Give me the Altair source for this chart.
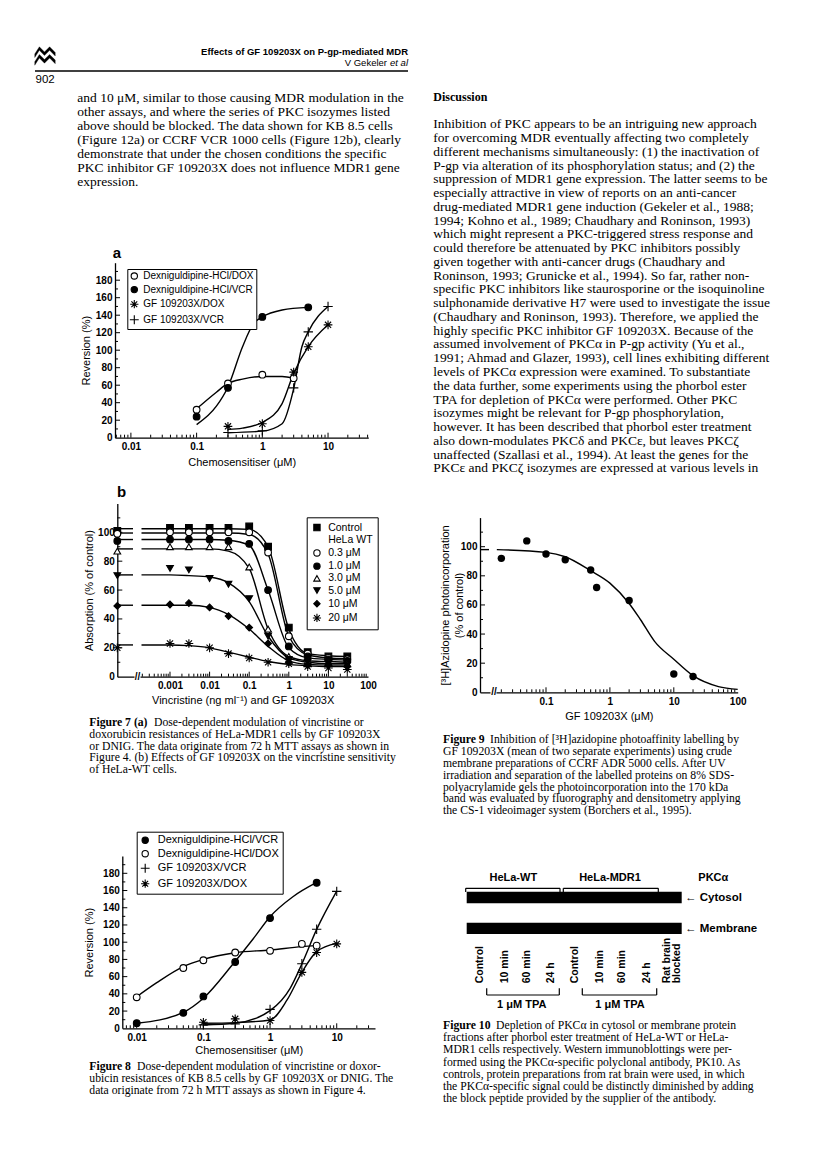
import altair as alt
import numpy as np
import pandas as pd

W, H = 800, 1146
MARGIN = 8
SANS = "Liberation Sans"
SERIF = "Liberation Serif"


def cx(v):
    return v - MARGIN


def cy(v):
    return v - MARGIN


# ================= page text =================
running_title = "Effects of GF 109203X on P-gp-mediated MDR"
running_author = "V Gekeler"
running_etal = "et al"
page_number = "902"

left_text = [
    "and 10 \u03bcM, similar to those causing MDR modulation in the",
    "other assays, and where the series of PKC isozymes listed",
    "above should be blocked. The data shown for KB 8.5 cells",
    "(Figure 12a) or CCRF VCR 1000 cells (Figure 12b), clearly",
    "demonstrate that under the chosen conditions the specific",
    "PKC inhibitor GF 109203X does not influence MDR1 gene",
    "expression.",
]

discussion_head = "Discussion"
right_text = [
    "Inhibition of PKC appears to be an intriguing new approach",
    "for overcoming MDR eventually affecting two completely",
    "different mechanisms simultaneously: (1) the inactivation of",
    "P-gp via alteration of its phosphorylation status; and (2) the",
    "suppression of MDR1 gene expression. The latter seems to be",
    "especially attractive in view of reports on an anti-cancer",
    "drug-mediated MDR1 gene induction (Gekeler et al., 1988;",
    "1994; Kohno et al., 1989; Chaudhary and Roninson, 1993)",
    "which might represent a PKC-triggered stress response and",
    "could therefore be attenuated by PKC inhibitors possibly",
    "given together with anti-cancer drugs (Chaudhary and",
    "Roninson, 1993; Grunicke et al., 1994). So far, rather non-",
    "specific PKC inhibitors like staurosporine or the isoquinoline",
    "sulphonamide derivative H7 were used to investigate the issue",
    "(Chaudhary and Roninson, 1993). Therefore, we applied the",
    "highly specific PKC inhibitor GF 109203X. Because of the",
    "assumed involvement of PKC\u03b1 in P-gp activity (Yu et al.,",
    "1991; Ahmad and Glazer, 1993), cell lines exhibiting different",
    "levels of PKC\u03b1 expression were examined. To substantiate",
    "the data further, some experiments using the phorbol ester",
    "TPA for depletion of PKC\u03b1 were performed. Other PKC",
    "isozymes might be relevant for P-gp phosphorylation,",
    "however. It has been described that phorbol ester treatment",
    "also down-modulates PKC\u03b4 and PKC\u03b5, but leaves PKC\u03b6",
    "unaffected (Szallasi et al., 1994). At least the genes for the",
    "PKC\u03b5 and PKC\u03b6 isozymes are expressed at various levels in",
]

cap7_head = "Figure 7  (a)"
cap7 = [
    "Dose-dependent modulation of vincristine or",
    "doxorubicin resistances of HeLa-MDR1 cells by GF 109203X",
    "or DNIG. The data originate from 72 h MTT assays as shown in",
    "Figure 4. (b) Effects of GF 109203X on the vincristine sensitivity",
    "of HeLa-WT cells.",
]
cap8_head = "Figure 8"
cap8 = [
    "Dose-dependent modulation of vincristine or doxor-",
    "ubicin resistances of KB 8.5 cells by GF 109203X or DNIG. The",
    "data originate from 72 h MTT assays as shown in Figure 4.",
]
cap9_head = "Figure 9"
cap9 = [
    "Inhibition of [\u00b3H]azidopine photoaffinity labelling by",
    "GF 109203X (mean of two separate experiments) using crude",
    "membrane preparations of CCRF ADR 5000 cells. After UV",
    "irradiation and separation of the labelled proteins on 8% SDS-",
    "polyacrylamide gels the photoincorporation into the 170 kDa",
    "band was evaluated by fluorography and densitometry applying",
    "the CS-1 videoimager system (Borchers et al., 1995).",
]
cap10_head = "Figure 10"
cap10 = [
    "Depletion of PKC\u03b1 in cytosol or membrane protein",
    "fractions after phorbol ester treatment of HeLa-WT or HeLa-",
    "MDR1 cells respectively. Western immunoblottings were per-",
    "formed using the PKC\u03b1-specific polyclonal antibody, PK10. As",
    "controls, protein preparations from rat brain were used, in which",
    "the PKC\u03b1-specific signal could be distinctly diminished by adding",
    "the block peptide provided by the supplier of the antibody.",
]

# ================= Figure 7a data =================
f7a_series = ["Dexniguldipine-HCl/DOX", "Dexniguldipine-HCl/VCR", "GF 109203X/DOX", "GF 109203X/VCR"]
f7a_dexdox_x = [0.1, 0.3, 1, 3]
f7a_dexdox_y = [32, 62, 72, 68]
f7a_dexvcr_x = [0.1, 0.3, 1, 5]
f7a_dexvcr_y = [24, 57, 138, 149]
f7a_gfdox_x = [0.3, 1, 3, 5, 10]
f7a_gfdox_y = [13, 16, 75, 104, 129]
f7a_gfvcr_x = [0.3, 1, 3, 5, 10]
f7a_gfvcr_y = [6, 8, 57, 121, 150]
# fitted curves
f7a_fit_dexdox_x = [0.1, 0.2, 0.3, 0.5, 1, 2, 3]
f7a_fit_dexdox_y = [33, 52, 62, 67, 70, 70, 68]
f7a_fit_dexvcr_x = [0.1, 0.2, 0.3, 0.5, 0.73, 1, 2, 5]
f7a_fit_dexvcr_y = [15, 36, 58, 104, 130, 138, 146, 149]
f7a_fit_gfdox_x = [0.3, 0.5, 1, 2, 3, 5, 10]
f7a_fit_gfdox_y = [9.5, 11, 17.5, 39, 73.5, 104, 129]
f7a_fit_gfvcr_x = [0.3, 1, 2, 3, 4, 5, 10]
f7a_fit_gfvcr_y = [5.7, 7.5, 16, 56, 104, 121, 150]

# ================= Figure 7b data =================
f7b_series = ["Control", "HeLa WT", "0.3 \u03bcM", "1.0 \u03bcM", "3.0 \u03bcM", "5.0 \u03bcM", "10 \u03bcM", "20 \u03bcM"]
f7b_vcr = [0, 0.001, 0.003, 0.01, 0.03, 0.1, 0.3, 1, 3, 10, 30]
f7b_control = [101, 103, 103, 103, 103, 104, 90, 34, 17, 14, 14]
f7b_gf03 = [99, 100, 100, 100, 100, 100, 86, 28, 16, 13, 12]
f7b_gf1 = [94, 95, 95, 95, 94, 92, 60, 21, 14, 12, 11]
f7b_gf3 = [87, 90, 90, 90, 90, 76, 33, 14, 11, 10, 9]
f7b_gf5 = [70, 75, 74, 68, 64, 54, 28, 12, 10, 9, 8]
f7b_gf10 = [49, 50, 51, 48, 42, 34, 23, 10, 8, 8, 7]
f7b_gf20 = [20, 23, 23, 20, 16, 13, 10, 9, 7, 6, 5]
# fitted curves: plateau at the control level, then at the same concentrations
f7b_fit_control = [102.5, 102.5, 102.5, 102.5, 102.5, 102, 90, 33, 16, 14.5, 14]
f7b_fit_gf03 = [99.5, 99.5, 99.5, 99.5, 99.5, 98.5, 85, 28, 15, 13, 12.5]
f7b_fit_gf1 = [95, 95, 95, 95, 94.5, 91, 60, 20, 13, 12, 11.5]
f7b_fit_gf3 = [88.5, 88.5, 88.5, 88.5, 87, 75, 33, 14, 11, 10.5, 10]
f7b_fit_gf5 = [70.5, 70.5, 70, 69, 65, 52, 28, 13, 10, 9, 9]
f7b_fit_gf10 = [49.5, 49.5, 49.5, 48, 43, 33, 21, 11, 8.5, 8, 8]
f7b_fit_gf20 = [22, 22, 21.5, 20, 17, 13.5, 10.5, 8.5, 7.5, 7, 7]

# ================= Figure 8 data =================
f8_series = ["Dexniguldipine-HCl/VCR", "Dexniguldipine-HCl/DOX", "GF 109203X/VCR", "GF 109203X/DOX"]
f8_dexvcr_x = [0.01, 0.05, 0.1, 0.3, 1, 5]
f8_dexvcr_y = [6, 18, 37, 77, 128, 169]
f8_dexdox_x = [0.01, 0.05, 0.1, 0.3, 1, 3, 5]
f8_dexdox_y = [36, 70, 79, 88, 90, 98, 96]
f8_gfvcr_x = [0.1, 0.3, 1, 3, 5, 10]
f8_gfvcr_y = [4, 5, 22, 75, 115, 159]
f8_gfdox_x = [0.1, 0.3, 1, 3, 5, 10]
f8_gfdox_y = [7, 11, 9, 65, 88, 98]
f8_fit_dexvcr_x = [0.01, 0.05, 0.1, 0.28, 0.56, 1, 2.2, 5]
f8_fit_dexvcr_y = [5.8, 18.6, 35, 75, 104, 129.6, 152.8, 169.4]
f8_fit_dexdox_x = [0.01, 0.02, 0.05, 0.1, 0.3, 1, 3, 5]
f8_fit_dexdox_y = [36.7, 53, 71.6, 80, 87.8, 91, 94.8, 96]
f8_fit_gfvcr_x = [0.1, 0.3, 1, 2, 3, 5, 10]
f8_fit_gfvcr_y = [3.9, 5.8, 20.5, 46.4, 74.7, 114.9, 159.4]
f8_fit_gfdox_x = [0.1, 0.3, 1, 1.8, 3, 5, 10]
f8_fit_gfdox_y = [5.8, 6.6, 9.7, 32.9, 65, 89, 98.6]

# ================= Figure 9 data =================
f9_gf = [0.02, 0.05, 0.1, 0.2, 0.5, 0.62, 2, 10, 20]
f9_incorp = [92, 104, 95, 91, 84, 72, 63, 12.6, 10.8]
f9_fit_gf = [0.017, 0.1, 0.2, 0.5, 1, 2, 3, 5, 10, 20, 50, 100]
f9_fit_incorp = [98, 96.1, 93.1, 83.5, 75, 61, 50, 35, 22.7, 11.4, 3.9, 2]

# ================= Figure 10 labels =================
f10_groups = ["HeLa-WT", "HeLa-MDR1", "PKC\u03b1"]
f10_fractions = ["\u2190 Cytosol", "\u2190 Membrane"]
f10_lanes = ["Control", "10 min", "60 min", "24 h", "Control", "10 min", "60 min", "24 h", "Rat brain", "blocked"]
f10_treatment = ["1 \u03bcM TPA", "1 \u03bcM TPA"]

# ================= symbols =================
AST = "M-1.3,0L1.3,0M0,-1.3L0,1.3M-0.92,-0.92L0.92,0.92M-0.92,0.92L0.92,-0.92"
PLUS = "M-1.4,0L1.4,0M0,-1.4L0,1.4"
EMPTY = "M0,0"
LOGO = ("M-1,-0.2L-0.55,-0.9L-0.05,-0.4L0.45,-0.9L1,-0.35L1,0L0.45,-0.55L-0.05,-0.05L-0.55,-0.55L-1,0.15Z"
        "M-1,0.55L-0.55,-0.15L-0.05,0.35L0.45,-0.15L1,0.4L1,0.75L0.45,0.2L-0.05,0.7L-0.55,0.2L-1,0.9Z")


# ================= helpers =================
def none_x(field="x"):
    return alt.X(f"{field}:Q", scale=None, axis=None)


def none_y(field="y"):
    return alt.Y(f"{field}:Q", scale=None, axis=None)


def text_block(lines, x0, y0, dy, size, font=SERIF, weight="normal", style="normal", align="left"):
    df = pd.DataFrame({
        "t": lines,
        "x": [cx(x0)] * len(lines),
        "y": [cy(y0 + i * dy) for i in range(len(lines))],
    })
    return alt.Chart(df).mark_text(align=align, baseline="middle", font=font, fontSize=size,
                                   fontWeight=weight, fontStyle=style, color="black").encode(
        x=none_x(), y=none_y(), text="t:N")


def text_at(items, size, font=SANS, weight="bold", align="center", angle=None):
    df = pd.DataFrame({"t": [t for t, _, _ in items],
                       "x": [cx(x) for _, x, _ in items],
                       "y": [cy(y) for _, _, y in items]})
    kw = dict(align=align, baseline="middle", font=font, fontSize=size, fontWeight=weight, color="black")
    if angle is not None:
        kw["angle"] = angle
    return alt.Chart(df).mark_text(**kw).encode(x=none_x(), y=none_y(), text="t:N")


def segs(rows, width=1.2):
    df = pd.DataFrame({
        "x": [cx(r[0]) for r in rows], "y": [cy(r[1]) for r in rows],
        "x2": [cx(r[2]) for r in rows], "y2": [cy(r[3]) for r in rows],
    })
    return alt.Chart(df).mark_rule(color="black", strokeWidth=width).encode(
        x=none_x(), y=none_y(), x2="x2:Q", y2="y2:Q")


def long_df(names, xs, ys, key="s"):
    rows = []
    for n, xx, yy in zip(names, xs, ys):
        for a, b in zip(xx, yy):
            rows.append({"x": a, "y": b, key: n})
    return pd.DataFrame(rows)


def decade_px(cfg):
    return (cfg["x1"] - cfg["x0"]) / np.log10(cfg["xhi"] / cfg["xlo"])


def inv_x(cfg, page_px):
    return cfg["xlo"] * 10 ** ((page_px - cfg["x0"]) / decade_px(cfg))


def enc_xy(cfg):
    """Shared x/y channel definitions (same scale + same axis in every layer of a figure)."""
    xs = alt.Scale(type="log", domain=[cfg["xlo"], cfg["xhi"]],
                   range=[cx(cfg["x0"]), cx(cfg["x1"])], nice=False)
    ys = alt.Scale(type="linear", domain=[cfg["ylo"], cfg["yhi"]],
                   range=[cy(cfg["y0"]), cy(cfg["y1"])], nice=False, zero=False)
    xa = alt.Axis(orient="bottom", offset=cy(cfg["y0"]) - H, values=cfg["xlabels"], format="~g",
                  ticks=False, tickSize=0, grid=False, domainColor="black", domainWidth=1.3,
                  labelFont=SANS, labelFontSize=10, labelFontWeight="bold", labelColor="black",
                  labelPadding=cfg["xlabpad"], labelFlush=False, labelOverlap=False,
                  title=cfg["xtitle"], titleFont=SANS, titleFontSize=11, titleFontWeight="normal",
                  titleColor="black", titlePadding=cfg["xtitpad"])
    ya = alt.Axis(orient="left", offset=-cx(cfg["x0"]), values=cfg["ylabels"], format="d",
                  ticks=False, tickSize=0, grid=False, domainColor="black", domainWidth=1.3,
                  labelFont=SANS, labelFontSize=10, labelFontWeight="bold", labelColor="black",
                  labelPadding=3, labelFlush=False, labelOverlap=False,
                  title=cfg["ytitle"], titleFont=SANS, titleFontSize=11, titleFontWeight="normal",
                  titleColor="black", titlePadding=cfg["ytitpad"], titleLineHeight=14)
    X = alt.X("x:Q", scale=xs, axis=xa)
    Y = alt.Y("y:Q", scale=ys, axis=ya)
    return X, Y


def tick_layers(cfg):
    X, Y = enc_xy(cfg)
    ppu = (cfg["y0"] - cfg["y1"]) / (cfg["yhi"] - cfg["ylo"])
    dec = decade_px(cfg)
    xt = []
    for e in range(-6, 4):
        for m in range(1, 10):
            v = m * 10.0 ** e
            if cfg["xlo"] * 1.001 < v < cfg["xhi"] * 0.999 and v >= cfg.get("tickmin", 0):
                L = 5 if m == 1 else 3
                xt.append({"x": v, "y": cfg["ylo"], "y2": cfg["ylo"] + L / ppu})
    yt = []
    v = cfg["ylo"] + 10
    while v < cfg["yhi"] - 0.01:
        L = 5 if (v % 20 == 0) else 3
        yt.append({"y": v, "x": cfg["xlo"], "x2": cfg["xlo"] * 10 ** (L / dec)})
        v += 10
    xticks = alt.Chart(pd.DataFrame(xt)).mark_rule(color="black", strokeWidth=1).encode(
        x=X, y=Y, y2="y2:Q")
    yticks = alt.Chart(pd.DataFrame(yt)).mark_rule(color="black", strokeWidth=1).encode(
        x=X, x2="x2:Q", y=Y)
    return [xticks, yticks]


def curve_layer(cfg, df, key="s"):
    X, Y = enc_xy(cfg)
    return alt.Chart(df).mark_line(color="black", strokeWidth=1.4, interpolate="monotone").encode(
        x=X, y=Y, detail=f"{key}:N")


def point_layer(cfg, df, dom, shapes, fills, leg, size=45):
    X, Y = enc_xy(cfg)
    lg = alt.Legend(orient="none", legendX=cx(leg["x"]), legendY=cy(leg["y"]), direction="vertical",
                    title=None, strokeColor="black", fillColor="white", padding=leg["pad"],
                    labelFont=SANS, labelFontSize=leg["fs"], labelColor="black", labelOffset=leg["off"],
                    labelLimit=300, symbolSize=leg["ss"], symbolStrokeWidth=1.1,
                    rowPadding=leg["rp"])
    return alt.Chart(df).mark_point(size=size, strokeWidth=1.1, opacity=1).encode(
        x=X, y=Y,
        shape=alt.Shape("s:N", scale=alt.Scale(domain=dom, range=shapes), legend=lg, sort=dom),
        fill=alt.Fill("s:N", scale=alt.Scale(domain=dom, range=fills), legend=lg, sort=dom),
        stroke=alt.Stroke("s:N", scale=alt.Scale(domain=dom, range=["black"] * len(dom)), legend=lg, sort=dom))


def break_layers(cfg, left_px, right_px, mid_px):
    X, Y = enc_xy(cfg)
    ppu = (cfg["y0"] - cfg["y1"]) / (cfg["yhi"] - cfg["ylo"])
    gap = pd.DataFrame({"x": [inv_x(cfg, left_px)], "x2": [inv_x(cfg, right_px)],
                        "y": [cfg["ylo"] - 3 / ppu], "y2": [cfg["ylo"] + 3 / ppu]})
    mark = pd.DataFrame({"x": [inv_x(cfg, mid_px)], "y": [cfg["ylo"]], "t": ["//"]})
    r = alt.Chart(gap).mark_rect(color="white").encode(x=X, x2="x2:Q", y=Y, y2="y2:Q")
    t = alt.Chart(mark).mark_text(font=SANS, fontSize=10, fontWeight="bold", color="black").encode(
        x=X, y=Y, text="t:N")
    return [r, t]


# ================= figure layouts (page pixels) =================
F7A = dict(xlo=0.005728, xhi=41.0, x0=115, x1=368.3, ylo=0, yhi=200, y0=437.7, y1=262.7,
           xlabels=[0.01, 0.1, 1, 10], ylabels=list(range(0, 181, 20)),
           xtitle="Chemosensitiser (\u03bcM)", ytitle="Reversion (%)",
           xlabpad=4, xtitpad=5, ytitpad=4)
F7B = dict(xlo=4.67e-5, xhi=100, x0=117.3, x1=368, ylo=0, yhi=120, y0=676.7, y1=676.7 - 120 * 1.444,
           xlabels=[0.001, 0.01, 0.1, 1, 10, 100], ylabels=list(range(0, 101, 20)),
           xtitle="Vincristine (ng ml\u207b\u00b9) and GF 109203X", ytitle="Absorption (% of control)",
           xlabpad=4, xtitpad=4, ytitpad=3, tickmin=2e-4)
F8 = dict(xlo=0.00608, xhi=37.5, x0=122.3, x1=375, ylo=0, yhi=200, y0=1028.3, y1=1028.3 - 200 * 0.8611,
          xlabels=[0.01, 0.1, 1, 10], ylabels=list(range(0, 181, 20)),
          xtitle="Chemosensitiser (\u03bcM)", ytitle="Reversion (%)",
          xlabpad=4, xtitpad=2, ytitpad=8)
F9 = dict(xlo=0.00927, xhi=100, x0=480, x1=737.7, ylo=0, yhi=120, y0=692.3, y1=692.3 - 120 * 1.456,
          xlabels=[0.1, 1, 10, 100], ylabels=list(range(0, 101, 20)),
          xtitle="GF 109203X (\u03bcM)", ytitle=["[\u00b3H]Azidopine photoincorporation", "(% of control)"],
          xlabpad=4, xtitpad=4, ytitpad=-4, tickmin=0.02)

BODY = 13.5
CAP = 11.7
CAP_DY = 11.8
layers = []

# ---------- header ----------
layers.append(alt.Chart(pd.DataFrame({"x": [cx(45)], "y": [cy(56)]})).mark_point(
    shape=LOGO, size=420, filled=True, fill="black", stroke="black", strokeWidth=0.3, opacity=1
).encode(x=none_x(), y=none_y()))
layers.append(text_at([(running_title, 408, 51.7)], 9.5, weight="bold", align="right"))
layers.append(text_at([(running_author, 387, 62.7)], 9.5, weight="normal", align="right"))
layers.append(alt.Chart(pd.DataFrame({"t": [running_etal], "x": [cx(408)], "y": [cy(62.7)]})).mark_text(
    align="right", baseline="middle", font=SANS, fontSize=9.5, fontStyle="italic", color="black"
).encode(x=none_x(), y=none_y(), text="t:N"))
layers.append(segs([(35, 71, 408, 71)], width=1.5))
layers.append(text_at([(page_number, 35.5, 79.5)], 11.5, weight="normal", align="left"))

# ---------- body text ----------
layers.append(text_block(left_text, 77.3, 97.7, 14.0, BODY))
layers.append(text_at([(discussion_head, 433.3, 96.7)], 12, font=SERIF, weight="bold", align="left"))
layers.append(text_block(right_text, 433.3, 124.3, 13.76, BODY))

# ---------- captions ----------
layers.append(text_at([(cap7_head, 89.3, 722)], CAP, font=SERIF, weight="bold", align="left"))
layers.append(text_block(cap7[:1], 154, 722, CAP_DY, CAP))
layers.append(text_block(cap7[1:], 89.3, 722 + CAP_DY, CAP_DY, CAP))
layers.append(text_at([(cap8_head, 89.3, 1066)], CAP, font=SERIF, weight="bold", align="left"))
layers.append(text_block(cap8[:1], 137, 1066, CAP_DY, CAP))
layers.append(text_block(cap8[1:], 89.3, 1066 + CAP_DY, CAP_DY, CAP))
layers.append(text_at([(cap9_head, 443, 739.3)], CAP, font=SERIF, weight="bold", align="left"))
layers.append(text_block(cap9[:1], 490, 739.3, CAP_DY, CAP))
layers.append(text_block(cap9[1:], 443, 739.3 + CAP_DY, CAP_DY, CAP))
layers.append(text_at([(cap10_head, 443, 1025)], CAP, font=SERIF, weight="bold", align="left"))
layers.append(text_block(cap10[:1], 496, 1025, 12.2, CAP))
layers.append(text_block(cap10[1:], 443, 1025 + 12.2, 12.2, CAP))

# ---------- panel letters ----------
layers.append(text_at([("a", 117, 253), ("b", 121.7, 491.7)], 15, weight="bold"))

# ---------- Figure 7a ----------
f7a_pts = long_df(f7a_series,
                  [f7a_dexdox_x, f7a_dexvcr_x, f7a_gfdox_x, f7a_gfvcr_x],
                  [f7a_dexdox_y, f7a_dexvcr_y, f7a_gfdox_y, f7a_gfvcr_y])
f7a_fit = long_df(f7a_series,
                  [f7a_fit_dexdox_x, f7a_fit_dexvcr_x, f7a_fit_gfdox_x, f7a_fit_gfvcr_x],
                  [f7a_fit_dexdox_y, f7a_fit_dexvcr_y, f7a_fit_gfdox_y, f7a_fit_gfvcr_y])
fig7a = alt.layer(
    *tick_layers(F7A),
    curve_layer(F7A, f7a_fit),
    point_layer(F7A, f7a_pts, f7a_series, ["circle", "circle", AST, PLUS],
                ["white", "black", "white", "white"],
                dict(x=127.3, y=269, pad=2, fs=10, off=4, ss=40, rp=1.6)),
)
layers.append(fig7a)

# ---------- Figure 7b ----------
f7b_vals = [f7b_control, f7b_gf03, f7b_gf1, f7b_gf3, f7b_gf5, f7b_gf10, f7b_gf20]
f7b_fits = [f7b_fit_control, f7b_fit_gf03, f7b_fit_gf1, f7b_fit_gf3, f7b_fit_gf5, f7b_fit_gf10, f7b_fit_gf20]
f7b_names = [f7b_series[0]] + f7b_series[2:]
xplot = [F7B["xlo"] if v == 0 else v for v in f7b_vcr]
f7b_pts = long_df(f7b_names, [xplot] * 7, f7b_vals)
stub_end = inv_x(F7B, 133)
curve_start = inv_x(F7B, 141.5)
rows = []
for n, fit in zip(f7b_names, f7b_fits):
    rows.append({"x": F7B["xlo"], "y": fit[0], "s": n + "|a"})
    rows.append({"x": stub_end, "y": fit[0], "s": n + "|a"})
    rows.append({"x": curve_start, "y": fit[0], "s": n + "|b"})
    for xv, yv in zip(f7b_vcr[1:], fit[1:]):
        rows.append({"x": xv, "y": yv, "s": n + "|b"})
f7b_fit = pd.DataFrame(rows)
fig7b = alt.layer(
    *tick_layers(F7B),
    *break_layers(F7B, 134.5, 140.5, 137.5),
    curve_layer(F7B, f7b_fit),
    point_layer(F7B, f7b_pts, f7b_series,
                ["square", EMPTY, "circle", "circle", "triangle-up", "triangle-down", "diamond", AST],
                ["black", "white", "white", "black", "white", "black", "black", "white"],
                dict(x=306.7, y=517.3, pad=5, fs=10.5, off=6, ss=40, rp=1.2)),
)
layers.append(fig7b)

# ---------- Figure 8 ----------
f8_pts = long_df(f8_series,
                 [f8_dexvcr_x, f8_dexdox_x, f8_gfvcr_x, f8_gfdox_x],
                 [f8_dexvcr_y, f8_dexdox_y, f8_gfvcr_y, f8_gfdox_y])
f8_fit = long_df(f8_series,
                 [f8_fit_dexvcr_x, f8_fit_dexdox_x, f8_fit_gfvcr_x, f8_fit_gfdox_x],
                 [f8_fit_dexvcr_y, f8_fit_dexdox_y, f8_fit_gfvcr_y, f8_fit_gfdox_y])
fig8 = alt.layer(
    *tick_layers(F8),
    curve_layer(F8, f8_fit),
    point_layer(F8, f8_pts, f8_series, ["circle", "circle", PLUS, AST],
                ["black", "white", "white", "white"],
                dict(x=136.7, y=831.7, pad=3, fs=11, off=7, ss=40, rp=1.5)),
)
layers.append(fig8)

# ---------- Figure 9 ----------
X9, Y9 = enc_xy(F9)
f9_pts = pd.DataFrame({"x": f9_gf, "y": f9_incorp})
stub9 = pd.DataFrame({"x": [F9["xlo"], inv_x(F9, 489)], "y": [f9_fit_incorp[0]] * 2, "s": ["a", "a"]})
fit9 = pd.DataFrame({"x": f9_fit_gf, "y": f9_fit_incorp, "s": ["b"] * len(f9_fit_gf)})
fig9 = alt.layer(
    *tick_layers(F9),
    *break_layers(F9, 490.5, 496.5, 494),
    curve_layer(F9, pd.concat([stub9, fit9], ignore_index=True)),
    alt.Chart(f9_pts).mark_circle(size=55, color="black", opacity=1).encode(x=X9, y=Y9),
)
layers.append(fig9)

# ---------- Figure 10 (immunoblot) ----------
band_x0, band_x1 = 466.7, 681.7
band_rows = [(891.7, 903.3), (922.7, 934.0)]
bands = pd.DataFrame({"x": [cx(band_x0)] * 2, "x2": [cx(band_x1)] * 2,
                      "y": [cy(a) for a, _ in band_rows], "y2": [cy(b) for _, b in band_rows]})
layers.append(alt.Chart(bands).mark_rect(color="black").encode(x=none_x(), x2="x2:Q", y=none_y(), y2="y2:Q"))
top_br = [(465.7, 560.0), (563.3, 658.3)]
bot_br = [(486.7, 559.3), (582.3, 656.7)]
br_rows = []
for a, b in top_br:
    br_rows += [(a, 888.3, b, 888.3), (a, 888.3, a, 892), (b, 888.3, b, 892)]
for a, b in bot_br:
    br_rows += [(a, 988.3, a, 995), (b, 988.3, b, 995), (a, 995, b, 995)]
layers.append(segs(br_rows, width=1.2))
group_x = [513.3, 610.0, 713.3]
layers.append(text_at([(g, x, 878.3) for g, x in zip(f10_groups, group_x)], 11))
layers.append(text_at([(f, 685, y) for f, y in zip(f10_fractions, [898, 929])], 11.5, align="left"))
lane_x = [480, 505, 526.7, 551, 575, 600, 621.7, 646.7, 666.7, 677.3]
layers.append(text_at([(l, x, 983.3) for l, x in zip(f10_lanes, lane_x)], 10.5, align="left", angle=270))
layers.append(text_at([(t, x, 1005) for t, x in zip(f10_treatment, [521.7, 620.0])], 11))

chart = alt.layer(*layers).resolve_scale(
    x="independent", y="independent", shape="independent", fill="independent", stroke="independent"
).properties(width=W, height=H, padding=0).configure_view(stroke=None)

chart.save("out.html", embed_options={"renderer": "svg", "actions": False})
